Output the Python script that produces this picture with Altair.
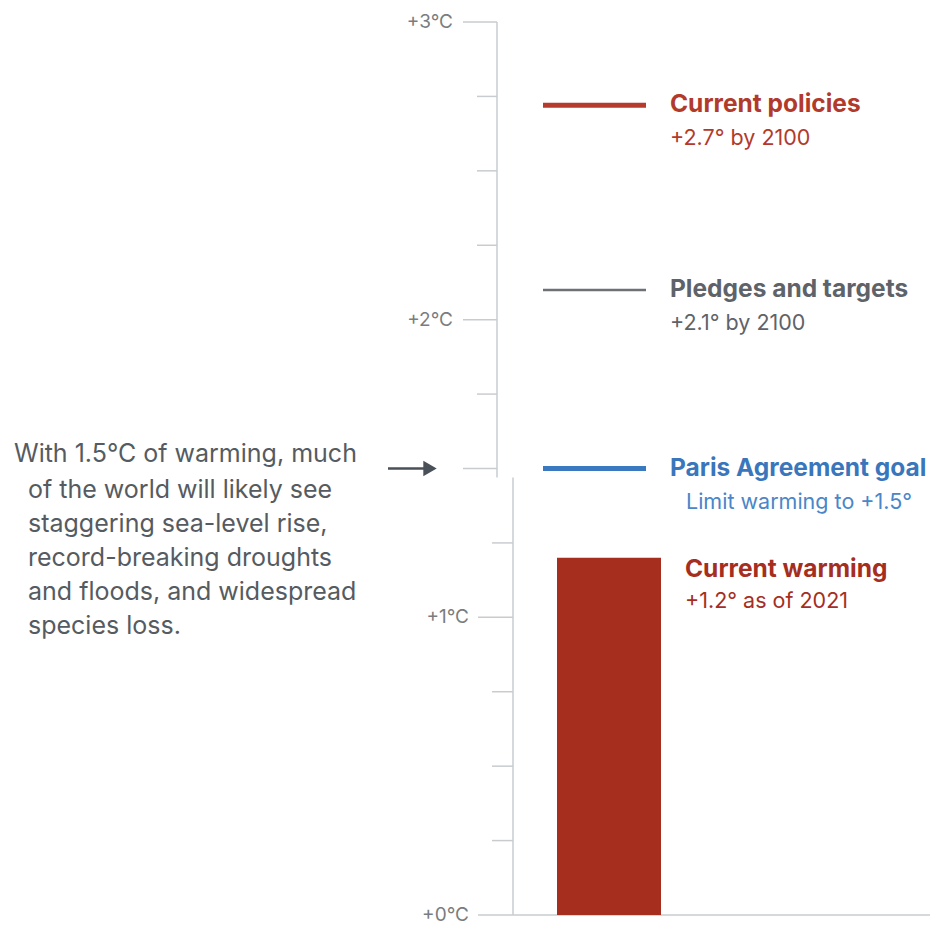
import altair as alt
import pandas as pd

# ---------------- data ----------------
tick_values = [0, 0.25, 0.5, 0.75, 1.0, 1.25, 1.5, 1.75, 2.0, 2.25, 2.5, 2.75, 3.0]
major_ticks = [0, 1.0, 1.5, 2.0, 3.0]
label_values = [0, 1, 2, 3]
label_texts = ["+0°C", "+1°C", "+2°C", "+3°C"]

scenario_names = ["Current policies", "Pledges and targets", "Paris Agreement goal"]
scenario_values = [2.72, 2.1, 1.5]
scenario_notes = ["+2.7° by 2100", "+2.1° by 2100", "Limit warming to +1.5°"]

current_name = "Current warming"
current_value = 1.2
current_note = "+1.2° as of 2021"

annotation_lines = [
    "With 1.5°C of warming, much",
    "of the world will likely see",
    "staggering sea-level rise,",
    "record-breaking droughts",
    "and floods, and widespread",
    "species loss.",
]

# ---------------- styles ----------------
FONT = "Inter"
AXIS_COLOR = "#c9cccf"
LABEL_COLOR = "#7a7d80"
TEXT_GRAY = "#565b61"
scenario_styles = [
    # line colour, line width, title colour, note colour, note x
    {"line": "#b73b2c", "w": 5, "title": "#b23a2b", "note": "#b23a2b", "nx": 662},
    {"line": "#6d7176", "w": 2.5, "title": "#5e6369", "note": "#5e6369", "nx": 662},
    {"line": "#3a78bf", "w": 5, "title": "#3a76bc", "note": "#4a86c8", "nx": 678},
]
DARK_RED = "#a52e1f"

ticks_df = pd.DataFrame({"v": tick_values})
ticks_df["upper"] = ticks_df["v"] >= 1.5
ticks_df["major"] = ticks_df["v"].isin(major_ticks)

labels_df = pd.DataFrame({"v": label_values, "t": label_texts})
scen_df = pd.DataFrame({"name": scenario_names, "v": scenario_values, "note": scenario_notes})
cur_df = pd.DataFrame({"name": [current_name], "v": [current_value], "note": [current_note], "base": [0]})

yscale = alt.Scale(domain=[0, 3], nice=False, zero=False)
Y = alt.Y("v:Q", scale=yscale, axis=None)

layers = []

layers.append(alt.Chart(pd.DataFrame({"v": [3.0], "v2": [1.47]})).mark_rule(
    color=AXIS_COLOR, strokeWidth=1.5
).encode(y=Y, y2="v2:Q", x=alt.value(489)))
layers.append(alt.Chart(pd.DataFrame({"v": [1.47], "v2": [0.0]})).mark_rule(
    color=AXIS_COLOR, strokeWidth=1.5
).encode(y=Y, y2="v2:Q", x=alt.value(505)))

base_ticks = alt.Chart(ticks_df)
for filt, x1, x2 in [
    ("datum.upper && datum.major", 455, 489),
    ("datum.upper && !datum.major", 469, 489),
    ("!datum.upper && datum.major && datum.v > 0", 470, 505),
    ("!datum.upper && !datum.major", 484, 505),
    ("datum.v == 0", 470, 922),
]:
    layers.append(base_ticks.transform_filter(filt).mark_rule(
        color=AXIS_COLOR, strokeWidth=1.5).encode(y=Y, x=alt.value(x1), x2=alt.value(x2)))

layers.append(alt.Chart(labels_df).transform_filter("datum.v >= 2").mark_text(
    font=FONT, fontSize=19, color=LABEL_COLOR, align="right", baseline="middle"
).encode(y=Y, x=alt.value(445), text="t:N"))
layers.append(alt.Chart(labels_df).transform_filter("datum.v < 2").mark_text(
    font=FONT, fontSize=19, color=LABEL_COLOR, align="right", baseline="middle"
).encode(y=Y, x=alt.value(461), text="t:N"))

for name, st in zip(scenario_names, scenario_styles):
    sub = alt.Chart(scen_df).transform_filter(alt.FieldEqualPredicate(field="name", equal=name))
    layers.append(sub.mark_rule(strokeWidth=st["w"], color=st["line"]).encode(
        y=Y, x=alt.value(535), x2=alt.value(638)))
    layers.append(sub.mark_text(
        font=FONT, fontSize=24.5, fontWeight="bold", align="left", baseline="middle", color=st["title"]
    ).encode(y=Y, x=alt.value(662), text="name:N"))
    layers.append(sub.mark_text(
        font=FONT, fontSize=21.5, align="left", baseline="middle", dy=34, color=st["note"]
    ).encode(y=Y, x=alt.value(st["nx"]), text="note:N"))

cur = alt.Chart(cur_df)
layers.append(cur.mark_rect(color=DARK_RED).encode(
    y=Y, y2="base:Q", x=alt.value(549), x2=alt.value(653)))
layers.append(cur.mark_text(
    font=FONT, fontSize=24.5, fontWeight="bold", align="left", baseline="middle", dy=12, color=DARK_RED
).encode(y=Y, x=alt.value(677), text="name:N"))
layers.append(cur.mark_text(
    font=FONT, fontSize=21.5, align="left", baseline="middle", dy=44, color=DARK_RED
).encode(y=Y, x=alt.value(677), text="note:N"))

paris = alt.Chart(scen_df).transform_filter(
    alt.FieldEqualPredicate(field="name", equal=scenario_names[2]))
layers.append(paris.mark_rule(color="#4a5058", strokeWidth=2.5).encode(
    y=Y, x=alt.value(380), x2=alt.value(418)))
layers.append(paris.mark_point(
    shape="triangle-right", filled=True, size=240, color="#4a5058", opacity=1
).encode(y=Y, x=alt.value(422)))

layers.append(paris.mark_text(
    font=FONT, fontSize=25, color=TEXT_GRAY, align="left", baseline="middle", dy=-15
).encode(y=Y, x=alt.value(6), text=alt.value(annotation_lines[0])))
layers.append(paris.mark_text(
    font=FONT, fontSize=25, color=TEXT_GRAY, align="left", baseline="middle", dy=21,
    lineBreak="\n", lineHeight=34
).encode(y=Y, x=alt.value(20), text=alt.value("\n".join(annotation_lines[1:]))))

chart = alt.layer(*layers).properties(
    width=922, height=893,
    padding={"left": 0, "top": 14, "right": 0, "bottom": 11},
    autosize=alt.AutoSizeParams(type="none"),
    background="white",
).configure_view(stroke=None)

chart.save("out.html", embed_options={"renderer": "svg", "actions": False})
